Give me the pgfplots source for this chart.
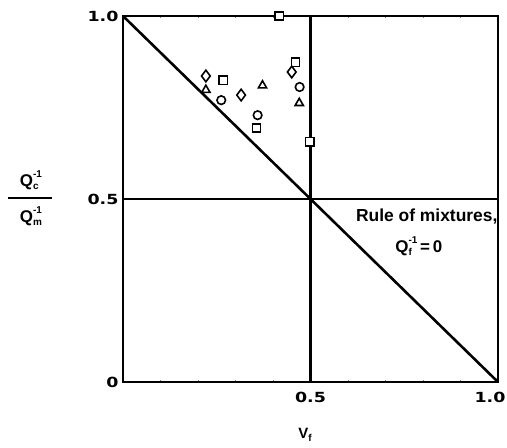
\documentclass[border=0pt]{standalone}
\usepackage{pgfplots}
\pgfplotsset{compat=1.18}
\usepackage{fontspec}
\setmainfont{Liberation Sans}
\newfontfamily\tickfont[FakeStretch=1.25]{DejaVu Sans}
% Q with a superscript stacked over a subscript
\newcommand{\sm}[1]{\mbox{\fontsize{10}{10}\selectfont\bfseries #1}}
\newcommand{\Qs}[1]{Q\rlap{\raisebox{-3.5pt}{\sm{#1}}}\raisebox{9pt}{\sm{-1}}}
\begin{document}
\begin{tikzpicture}[font=\bfseries]
\begin{axis}[
  at={(0,0)}, anchor=south west,
  scale only axis, width=375bp, height=366bp,
  xmin=0, xmax=1, ymin=0, ymax=1,
  xtick={0.5,1}, xticklabels={0.5,\makebox[0pt]{1.0\hspace{16bp}}},
  ytick={0,0.5,1}, yticklabels={0,0.5,1.0},
  major tick length=0pt,
  minor xtick={0.1,0.2,0.3,0.4,0.6,0.7,0.8,0.9},
  minor tick length=2pt,
  axis line style={line width=2pt},
  tick label style={font=\tickfont\fontsize{14}{14}\selectfont\bfseries},
  xticklabel style={yshift=-7pt},
  yticklabel style={xshift=-1pt},
  clip=false,
]
% rule of mixtures line and reference lines
\addplot[line width=2.6pt] coordinates {(0,1) (1,0)};
\addplot[line width=2.2pt] coordinates {(0.5,0) (0.5,1)};
\addplot[line width=2.2pt] coordinates {(0,0.5) (1,0.5)};
% measured composites
\addplot[only marks, mark=square*, mark size=4.2pt, mark options={line width=1.6pt, fill=white, draw=black}]
  coordinates {(0.417,1.0) (0.460,0.873) (0.267,0.824) (0.356,0.694) (0.498,0.657)};
\addplot[only marks, mark=diamond*, mark size=5.8pt, mark options={line width=1.6pt, fill=white, draw=black}]
  coordinates {(0.221,0.836) (0.315,0.784) (0.450,0.847)};
\addplot[only marks, mark=*, mark size=4.3pt, mark options={line width=1.6pt, fill=white, draw=black}]
  coordinates {(0.262,0.770) (0.359,0.729) (0.471,0.806)};
\addplot[only marks, mark=triangle*, mark size=4.8pt, mark options={line width=1.6pt, fill=white, draw=black}]
  coordinates {(0.221,0.798) (0.372,0.810) (0.470,0.762)};
\node[font=\fontsize{17.5}{17.5}\selectfont\bfseries] at (axis cs:0.810,0.451) {Rule of mixtures,};
\node[font=\fontsize{17}{17}\selectfont\bfseries] at (axis cs:0.789,0.372) {\Qs{f}\,=\,0};
\end{axis}
% axis titles
\node[font=\fontsize{17}{17}\selectfont\bfseries] at (-92bp,202bp) {\Qs{c}};
\draw[line width=1.6pt] (-115bp,184bp) -- (-71bp,184bp);
\node[font=\fontsize{17}{17}\selectfont\bfseries] at (-92bp,166bp) {\Qs{m}};
\node[font=\fontsize{15}{15}\selectfont\bfseries] at (182bp,-53bp) {V\raisebox{-3.5pt}{\sm{f}}};
\pgfresetboundingbox
\useasboundingbox (-123bp,-66bp) rectangle (384bp,382bp);
\end{tikzpicture}
\end{document}
